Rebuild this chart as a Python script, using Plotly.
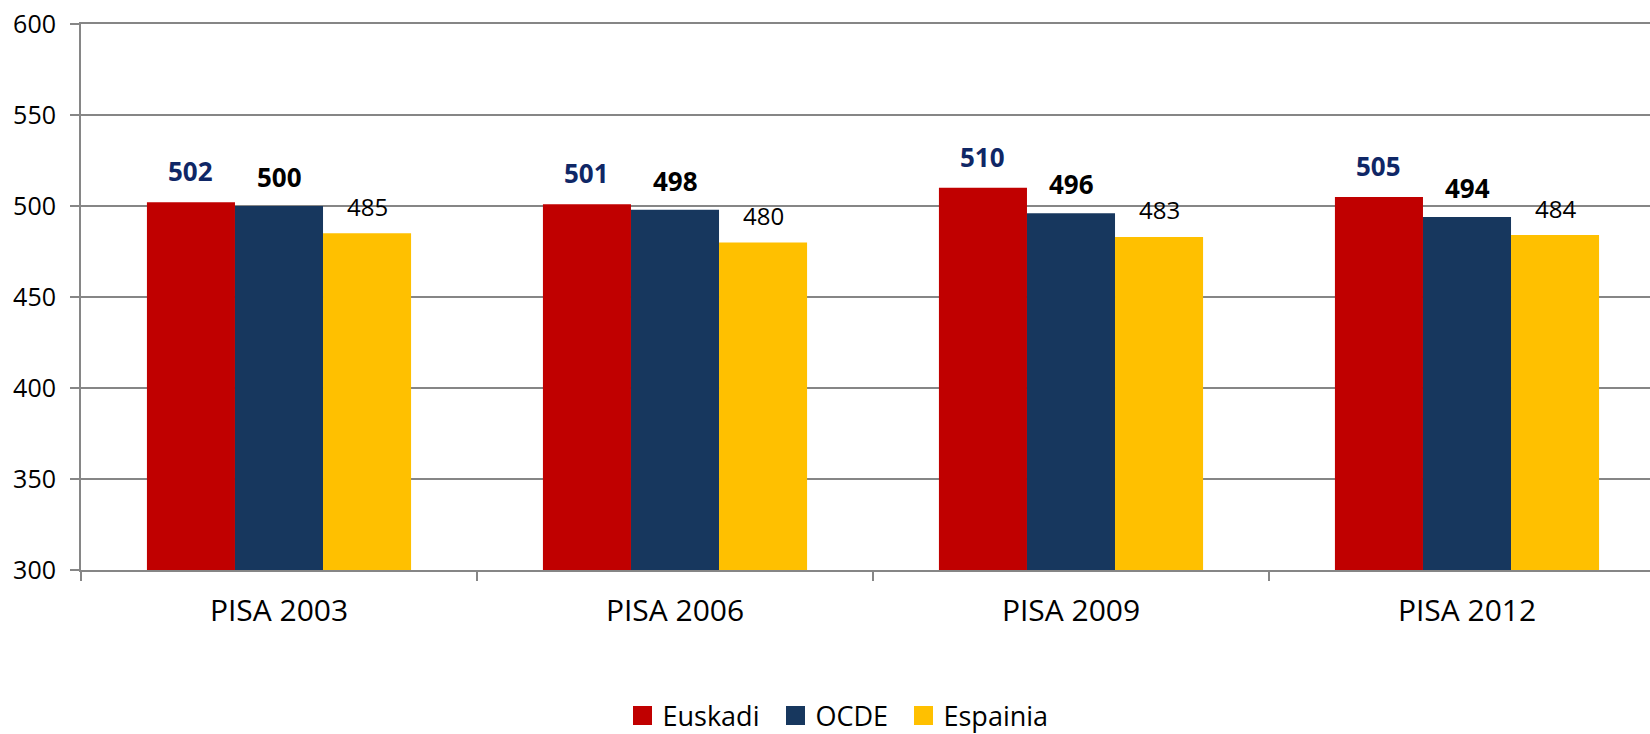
import plotly.graph_objects as go

categories = ["PISA 2003", "PISA 2006", "PISA 2009", "PISA 2012"]
euskadi = [502, 501, 510, 505]
ocde = [500, 498, 496, 494]
espainia = [485, 480, 483, 484]
y_ticks = [300, 350, 400, 450, 500, 550, 600]

FONT = "Open Sans"
GRID = "#868686"
colors = {"Euskadi": "#C00000", "OCDE": "#17375E", "Espainia": "#FFC000"}
series = [("Euskadi", euskadi), ("OCDE", ocde), ("Espainia", espainia)]
legend_widths = {"Euskadi": 108, "OCDE": 83, "Espainia": 103}

fig = go.Figure()
for name, vals in series:
    fig.add_trace(go.Bar(x=categories, y=vals, name=name, marker_color=colors[name],
                         marker_line_width=0, showlegend=False))
# legend proxies with larger square symbols
for name, _ in series:
    fig.add_trace(go.Scatter(x=[None], y=[None], mode="markers", name=name,
                             legendwidth=legend_widths[name],
                             marker=dict(symbol="square", size=16, color=colors[name],
                                         line=dict(color=colors[name], width=3))))

W, H = 1650, 734
ml, mr, mt, mb = 81, 0, 24, 164
cat_px = 396.0
visible_cats = (W - ml - mr) / cat_px
bargap = 0.333
bar_w = cat_px * (1 - bargap) / 3

label_styles = [
    (euskadi, -bar_w, 31, dict(color="#0F2766", size=26, family=FONT, weight="bold")),
    (ocde, 0, 29, dict(color="#000000", size=26, family=FONT, weight="bold")),
    (espainia, bar_w, 27, dict(color="#000000", size=24, family=FONT)),
]
for vals, xs, ys, f in label_styles:
    for c, v in zip(categories, vals):
        fig.add_annotation(x=c, y=v, text=str(v), showarrow=False, xshift=xs, yshift=ys,
                           font=f)

plot_h = H - mt - mb
plot_w = W - ml - mr
legend_center_y = 716
legend_center_x = 837
fig.update_layout(
    width=W, height=H,
    margin=dict(l=ml, r=mr, t=mt, b=mb, autoexpand=False),
    paper_bgcolor="white", plot_bgcolor="white",
    barmode="group", bargap=bargap, bargroupgap=0,
    font=dict(family=FONT, size=24, color="#000000"),
    showlegend=True,
    legend=dict(orientation="h", x=(legend_center_x - ml) / plot_w, xanchor="center", xref="paper",
                y=-(legend_center_y - (H - mb)) / plot_h, yanchor="middle", yref="paper",
                font=dict(size=27, family=FONT), traceorder="normal",
                itemsizing="trace"),
)
fig.update_yaxes(range=[300, 600], tickvals=y_ticks, showgrid=True, gridcolor=GRID, gridwidth=2,
                 showline=True, linecolor=GRID, linewidth=2, ticks="outside", ticklen=9,
                 tickcolor=GRID, tickwidth=2, zeroline=False, tickfont=dict(size=25),
                 ticklabelstandoff=9, automargin=False)
fig.update_xaxes(range=[-0.5, -0.5 + visible_cats], mirror=True,
                 showline=True, linecolor=GRID, linewidth=2, ticks="outside", ticklen=9,
                 tickcolor=GRID, tickwidth=2, tickson="boundaries", tickfont=dict(size=30),
                 ticklabelstandoff=13, automargin=False)

fig.write_html("out.html", config={"displayModeBar": False},
               post_script="document.body.style.margin='0px';")
